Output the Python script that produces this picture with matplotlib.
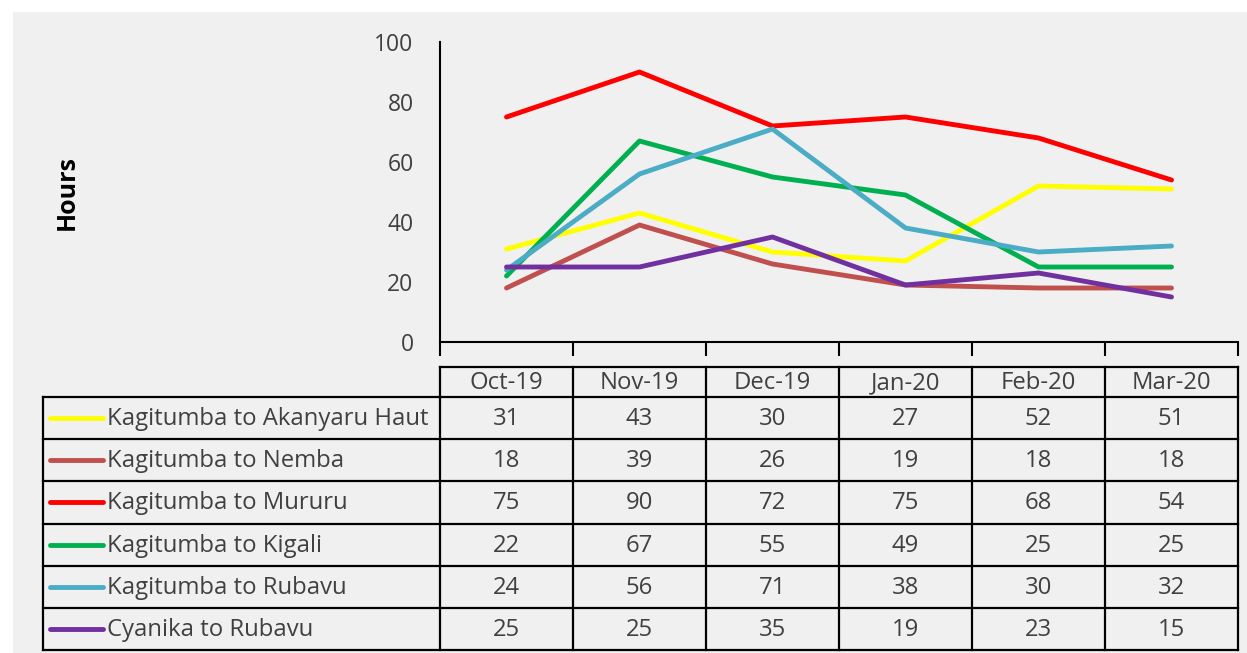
import matplotlib.pyplot as plt
from matplotlib.patches import Rectangle

months = ["Oct-19", "Nov-19", "Dec-19", "Jan-20", "Feb-20", "Mar-20"]
routes = ["Kagitumba to Akanyaru Haut", "Kagitumba to Nemba", "Kagitumba to Mururu",
          "Kagitumba to Kigali", "Kagitumba to Rubavu", "Cyanika to Rubavu"]
akanyaru = [31, 43, 30, 27, 52, 51]
nemba = [18, 39, 26, 19, 18, 18]
mururu = [75, 90, 72, 75, 68, 54]
kigali = [22, 67, 55, 49, 25, 25]
rubavu = [24, 56, 71, 38, 30, 32]
cyanika = [25, 25, 35, 19, 23, 15]
series = [akanyaru, nemba, mururu, kigali, rubavu, cyanika]
colors = ["#ffff00", "#c0504d", "#ff0000", "#00b050", "#4bacc6", "#7030a0"]

W, H = 1247, 653
BG = "#f0f0f0"
TXT = "#404040"
FONT = "Open Sans"
FS = 17.2

fig = plt.figure(figsize=(W / 100, H / 100), dpi=100, facecolor="white")
fig.patches.append(Rectangle((13 / W, 0), 1 - 13 / W, (H - 12) / H,
                             transform=fig.transFigure, facecolor=BG, edgecolor="none", zorder=-10))

# chart area (pixel positions from the reference)
x0, x1, ytop, ybot = 440, 1238, 42, 342
ax = fig.add_axes([x0 / W, (H - ybot) / H, (x1 - x0) / W, (ybot - ytop) / H])
ax.set_facecolor("none")
xs = [i + 0.5 for i in range(len(months))]
for vals, c in zip(series, colors):
    ax.plot(xs, vals, color=c, lw=3.5, solid_capstyle="round", solid_joinstyle="round")
ax.set_xlim(0, len(months))
ax.set_ylim(0, 100)
ax.set_yticks(range(0, 101, 20))
ax.set_xticks(range(len(months) + 1))
ax.set_xticklabels([])
ax.tick_params(axis="x", length=10, width=1.5, color="black", direction="out")
ax.tick_params(axis="y", length=0, pad=19, labelsize=16.5, labelcolor=TXT)
for lab in ax.get_yticklabels():
    lab.set_fontfamily(FONT)
for s in ["top", "right"]:
    ax.spines[s].set_visible(False)
for s in ["left", "bottom"]:
    ax.spines[s].set_linewidth(1.5)
    ax.spines[s].set_color("black")
ax.spines["left"].set_bounds(0, 100)

fig.text(67 / W, (H - 192) / H, "Hours", rotation=90, ha="center", va="center",
         fontsize=18, fontweight="bold", family=FONT, color="black")

# data table drawn in pixel coordinates
tab = fig.add_axes([0, 0, 1, 1])
tab.set_xlim(0, W)
tab.set_ylim(H, 0)
tab.axis("off")
tab.patch.set_visible(False)

col_w = (x1 - x0) / len(months)
col_edges = [x0 + i * col_w for i in range(len(months) + 1)]
head_top, head_bot = 367, 397
row_h = (650 - head_bot) / len(routes)
row_edges = [head_bot + i * row_h for i in range(len(routes) + 1)]
lx = 43
lk = dict(color="black", lw=1.6, solid_capstyle="projecting")

tab.plot([x0, x1], [head_top, head_top], **lk)
for e in col_edges:
    tab.plot([e, e], [head_top, row_edges[-1]], **lk)
tab.plot([lx, lx], [head_bot, row_edges[-1]], **lk)
for r in row_edges:
    tab.plot([lx, x1], [r, r], **lk)

for i, m in enumerate(months):
    tab.text(x0 + (i + 0.5) * col_w, (head_top + head_bot) / 2 + 1, m, ha="center", va="center",
             fontsize=FS, family=FONT, color=TXT)

for j, (name, vals, c) in enumerate(zip(routes, series, colors)):
    yc = row_edges[j] + row_h / 2
    tab.plot([50, 103], [yc, yc], color=c, lw=3.5, solid_capstyle="round")
    tab.text(107, yc + 1, name, ha="left", va="center", fontsize=FS, family=FONT, color=TXT)
    for i, v in enumerate(vals):
        tab.text(x0 + (i + 0.5) * col_w, yc + 1, str(v), ha="center", va="center",
                 fontsize=FS, family=FONT, color=TXT)

fig.savefig("out.png", dpi=100, facecolor=fig.get_facecolor())
